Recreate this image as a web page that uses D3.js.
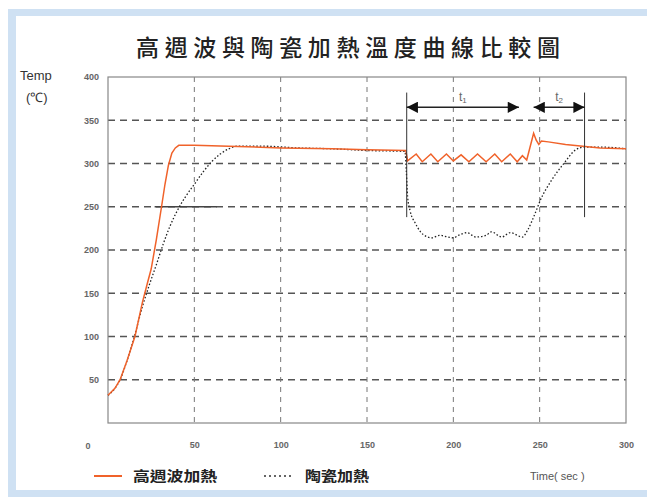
<!DOCTYPE html>
<html>
<head>
<meta charset="utf-8">
<script src="https://cdn.jsdelivr.net/npm/d3@7"></script>
<style>
  body { margin: 0; background: #fff; }
  svg { display: block; }
</style>
</head>
<body>
<div class="temp-chart"></div>
<script>
var title = "高週波與陶瓷加熱溫度曲線比較圖";
var xTicks = [50, 100, 150, 200, 250, 300];
var yTicks = [50, 100, 150, 200, 250, 300, 350, 400];

// 高週波加熱 (orange)
var hfTime = [0, 4, 7, 11, 15.6, 20, 23, 25, 28, 31, 33, 35, 37, 39, 41, 50, 70, 100, 130, 150, 172.5,
  173.5, 178.5, 182, 187, 191, 196, 200, 204.5, 209, 214, 219, 224, 228, 233, 237, 240, 242.5,
  246.5, 248, 249.5, 251, 255, 265, 275, 285, 300];
var hfTemp = [32, 40, 50, 72, 100, 140, 163, 178, 212, 250, 276, 298, 312, 318, 321, 321, 320, 318, 317, 316, 315,
  303, 311, 302, 311, 302, 311, 303, 310, 302, 311, 302, 311, 302, 311, 302, 309, 304,
  335, 327, 322, 326, 325, 322, 320, 318, 317];

// 陶瓷加熱 (dotted)
var cerTime = [0, 4, 7, 11, 15, 20, 24, 28, 32, 36, 40, 45, 50, 55, 60, 65, 70, 75, 90, 110, 130, 150, 172,
  172.8, 173.5, 175, 178, 181, 184, 187.5, 192, 197, 200, 203, 208, 213, 219, 222, 228, 233, 240,
  243, 247.5, 250.5, 257, 264, 271, 276, 285, 300];
var cerTemp = [32, 40, 50, 72, 98, 135, 160, 183, 207, 228, 245, 262, 276, 290, 302, 311, 317, 320, 320, 318, 317, 315, 314,
  290, 262, 245, 231, 221, 216, 214, 217, 215, 214, 217, 220, 215, 217, 221, 215, 220, 215,
  223, 243, 258, 281, 300, 316, 319, 319, 317];

// t1 / t2 intervals (seconds)
var t1Span = [173, 238];
var t2Span = [246.5, 276];
var markerTimes = [173, 276];
var spanTemp = 365;
var refLine = [[27, 250], [63, 250]];

var width = 647;
var height = 497;

var svg = d3.select(".temp-chart")
            .append("svg")
              .attr("width", width)
              .attr("height", height);

// light blue frame
var frameBlue = "#cfe1f3";
svg.append("rect").attr("x", 8).attr("y", 9).attr("width", width - 8).attr("height", 7).attr("fill", frameBlue);
svg.append("rect").attr("x", 8).attr("y", 9).attr("width", 8).attr("height", height - 9).attr("fill", frameBlue);
svg.append("rect").attr("x", 8).attr("y", 490).attr("width", width - 8).attr("height", 7).attr("fill", frameBlue);

var xScale = d3.scaleLinear().domain([0, 300]).range([108, 626]);
var yScale = d3.scaleLinear().domain([0, 400]).range([423, 77]);

// title
svg.append("text")
  .attr("x", 136)
  .attr("y", 56)
  .attr("textLength", 424)
  .attr("lengthAdjust", "spacing")
  .attr("font-family", "Noto Sans CJK TC")
  .attr("font-weight", 500)
  .attr("font-size", "23px")
  .attr("fill", "#222")
  .text(title);

// grid
svg.selectAll(".hgrid")
  .data(yTicks.filter(function(d) { return d < 400; }))
  .enter()
  .append("line")
  .attr("x1", xScale(0))
  .attr("x2", xScale(300))
  .attr("y1", function(d) { return yScale(d); })
  .attr("y2", function(d) { return yScale(d); })
  .attr("stroke", "#555")
  .attr("stroke-width", 1.3)
  .attr("stroke-dasharray", "7,5");

svg.selectAll(".vgrid")
  .data(xTicks.filter(function(d) { return d < 300; }))
  .enter()
  .append("line")
  .attr("x1", function(d) { return xScale(d); })
  .attr("x2", function(d) { return xScale(d); })
  .attr("y1", yScale(400))
  .attr("y2", yScale(0))
  .attr("stroke", "#777")
  .attr("stroke-width", 1)
  .attr("stroke-dasharray", "5,5");

// plot border
svg.append("rect")
  .attr("x", xScale(0))
  .attr("y", yScale(400))
  .attr("width", xScale(300) - xScale(0))
  .attr("height", yScale(0) - yScale(400))
  .attr("fill", "none")
  .attr("stroke", "#888")
  .attr("stroke-width", 1.2);

// axes (labels only)
var yAxis = d3.axisLeft(yScale).tickValues(yTicks).tickSize(0).tickPadding(9);
var gy = svg.append("g").attr("transform", "translate(" + xScale(0) + ",0)").call(yAxis);
gy.select(".domain").remove();
gy.selectAll("text")
  .attr("font-family", "Liberation Sans")
  .attr("font-weight", "bold")
  .attr("font-size", "9px")
  .attr("fill", "#666");

var xAxis = d3.axisBottom(xScale).tickValues(xTicks).tickSize(0).tickPadding(19);
var gx = svg.append("g").attr("transform", "translate(0," + yScale(0) + ")").call(xAxis);
gx.select(".domain").remove();
gx.selectAll("text")
  .attr("font-family", "Liberation Sans")
  .attr("font-weight", "bold")
  .attr("font-size", "9px")
  .attr("fill", "#666");

svg.append("text")
  .attr("x", xScale(0) - 20)
  .attr("y", yScale(0) + 26)
  .attr("text-anchor", "middle")
  .attr("font-family", "Liberation Sans")
  .attr("font-weight", "bold")
  .attr("font-size", "9px")
  .attr("fill", "#666")
  .text("0");

svg.append("text")
  .attr("x", 20).attr("y", 80)
  .attr("font-family", "Liberation Sans")
  .attr("font-size", "13px")
  .attr("fill", "#333")
  .text("Temp");
svg.append("text")
  .attr("x", 26).attr("y", 102)
  .attr("font-family", "Liberation Sans")
  .attr("font-size", "13px")
  .attr("fill", "#333")
  .text("(℃)");

// reference segment on 250 line
svg.append("line")
  .attr("x1", xScale(refLine[0][0])).attr("y1", yScale(refLine[0][1]))
  .attr("x2", xScale(refLine[1][0])).attr("y2", yScale(refLine[1][1]))
  .attr("stroke", "#444")
  .attr("stroke-width", 1.5);

// curves
var line = d3.line()
  .x(function(d) { return xScale(d[0]); })
  .y(function(d) { return yScale(d[1]); });

var cerData = cerTime.map(function(t, i) { return [t, cerTemp[i]]; });
var hfData = hfTime.map(function(t, i) { return [t, hfTemp[i]]; });

svg.append("path")
  .attr("d", line.curve(d3.curveMonotoneX)(cerData))
  .attr("fill", "none")
  .attr("stroke", "#222")
  .attr("stroke-width", 1.3)
  .attr("stroke-dasharray", "1.5,2");

svg.append("path")
  .attr("d", line.curve(d3.curveLinear)(hfData))
  .attr("fill", "none")
  .attr("stroke", "#f0622a")
  .attr("stroke-width", 1.5);

// marker lines and t1/t2 arrows
svg.selectAll(".marker")
  .data(markerTimes)
  .enter()
  .append("line")
  .attr("x1", function(d) { return xScale(d); })
  .attr("x2", function(d) { return xScale(d); })
  .attr("y1", yScale(382))
  .attr("y2", yScale(238))
  .attr("stroke", "#333")
  .attr("stroke-width", 1);

var defs = svg.append("defs");
defs.append("marker")
  .attr("id", "ah")
  .attr("viewBox", "0 0 10 10")
  .attr("refX", 10).attr("refY", 5)
  .attr("markerWidth", 8).attr("markerHeight", 7)
  .attr("orient", "auto-start-reverse")
  .append("path")
  .attr("d", "M0,0L10,5L0,10Z")
  .attr("fill", "#111");

[t1Span, t2Span].forEach(function(s) {
  svg.append("line")
    .attr("x1", xScale(s[0])).attr("x2", xScale(s[1]))
    .attr("y1", yScale(spanTemp)).attr("y2", yScale(spanTemp))
    .attr("stroke", "#222")
    .attr("stroke-width", 1.6)
    .attr("marker-start", "url(#ah)")
    .attr("marker-end", "url(#ah)");
});

var spanLabels = [["t", "1", (t1Span[0] + t1Span[1]) / 2], ["t", "2", (t2Span[0] + t2Span[1]) / 2]];
spanLabels.forEach(function(l) {
  var tx = svg.append("text")
    .attr("x", xScale(l[2]))
    .attr("y", yScale(spanTemp) - 6)
    .attr("text-anchor", "middle")
    .attr("font-family", "Liberation Sans")
    .attr("font-size", "12px")
    .attr("fill", "#666");
  tx.append("tspan").text(l[0]);
  tx.append("tspan").attr("font-size", "8px").attr("dy", 2).text(l[1]);
});

// legend
var legendY = 476;
svg.append("line").attr("x1", 94).attr("x2", 122).attr("y1", legendY).attr("y2", legendY)
  .attr("stroke", "#f0622a").attr("stroke-width", 2);
svg.append("text").attr("x", 133).attr("y", legendY + 5)
  .attr("textLength", 84).attr("lengthAdjust", "spacingAndGlyphs")
  .attr("font-family", "Noto Sans CJK TC").attr("font-weight", "bold").attr("font-size", "14px")
  .attr("fill", "#222").text("高週波加熱");
svg.append("line").attr("x1", 264).attr("x2", 294).attr("y1", legendY).attr("y2", legendY)
  .attr("stroke", "#333").attr("stroke-width", 1.5).attr("stroke-dasharray", "2,3");
svg.append("text").attr("x", 305).attr("y", legendY + 5)
  .attr("textLength", 64).attr("lengthAdjust", "spacingAndGlyphs")
  .attr("font-family", "Noto Sans CJK TC").attr("font-weight", "bold").attr("font-size", "14px")
  .attr("fill", "#222").text("陶瓷加熱");
svg.append("text").attr("x", 530).attr("y", legendY + 4)
  .attr("font-family", "Liberation Sans").attr("font-size", "11px")
  .attr("fill", "#555").text("Time( sec )");
</script>
</body>
</html>
